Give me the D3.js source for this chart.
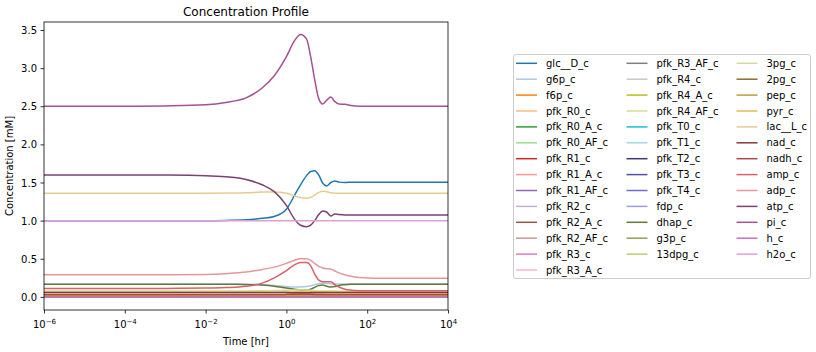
<!DOCTYPE html>
<html><head><meta charset="utf-8">
<script src="https://cdn.jsdelivr.net/npm/d3@7"></script>
<style>
html,body{margin:0;padding:0;background:#fff;}
svg{display:block;font-family:"DejaVu Sans",sans-serif;}
</style></head>
<body><svg id="chart" width="816" height="352"></svg>
<script>
// ---- data ----
const times = [1e-6, 1e-4, 1e-3, 1e-2, 0.0316, 0.1, 0.251, 0.501, 1, 1.585, 2.239, 3.162, 3.981, 5.012, 6.31, 7.943, 10, 12.59, 15.85, 19.95, 28.18, 39.81, 63.1, 158.5, 1000, 10000];

const names = ["glc__D_c","g6p_c","f6p_c","pfk_R0_c","pfk_R0_A_c","pfk_R0_AF_c","pfk_R1_c","pfk_R1_A_c","pfk_R1_AF_c","pfk_R2_c","pfk_R2_A_c","pfk_R2_AF_c","pfk_R3_c","pfk_R3_A_c","pfk_R3_AF_c","pfk_R4_c","pfk_R4_A_c","pfk_R4_AF_c","pfk_T0_c","pfk_T1_c","pfk_T2_c","pfk_T3_c","pfk_T4_c","fdp_c","dhap_c","g3p_c","13dpg_c","3pg_c","2pg_c","pep_c","pyr_c","lac__L_c","nad_c","nadh_c","amp_c","adp_c","atp_c","pi_c","h_c","h2o_c"];

const colors = ["#1f77b4","#aec7e8","#ff7f0e","#ffbb78","#2ca02c","#98df8a","#d62728","#ff9896","#9467bd","#c5b0d5","#8c564b","#c49c94","#e377c2","#f7b6d2","#7f7f7f","#c7c7c7","#bcbd22","#dbdb8d","#17becf","#9edae5","#393b79","#5254a3","#6b6ecf","#9c9ede","#637939","#8ca252","#b5cf6b","#cedb9c","#8c6d31","#bd9e39","#e7ba52","#e7cb94","#843c39","#ad494a","#d6616b","#e7969c","#7b4173","#a55194","#ce6dbd","#de9ed6"];

const yTicks = [0.0, 0.5, 1.0, 1.5, 2.0, 2.5, 3.0, 3.5];
const xTicks = [1e-6, 1e-4, 1e-2, 1e0, 1e2, 1e4];

const v_glc__D_c   = [1.0,1.0,1.0,1.0,1.003,1.01,1.03,1.055,1.15,1.33,1.47,1.59,1.645,1.655,1.6,1.49,1.455,1.5,1.52,1.505,1.5,1.505,1.505,1.505,1.505,1.505];
const v_g6p_c      = [0.165,0.165,0.165,0.165,0.165,0.164,0.16,0.15,0.136,0.13,0.13,0.135,0.145,0.16,0.175,0.18,0.177,0.172,0.17,0.17,0.17,0.17,0.17,0.17,0.17,0.17];
const v_f6p_c      = [0.02,0.02,0.02,0.02,0.02,0.021,0.023,0.026,0.03,0.033,0.035,0.036,0.036,0.035,0.034,0.033,0.032,0.032,0.032,0.031,0.031,0.031,0.031,0.031,0.031,0.031];
const v_pfk_R0_c   = [0.001,0.001,0.001,0.001,0.001,0.001,0.001,0.001,0.001,0.001,0.001,0.001,0.001,0.001,0.001,0.001,0.001,0.001,0.001,0.001,0.001,0.001,0.001,0.001,0.001,0.001];
const v_pfk_R0_A_c = [0.002,0.002,0.002,0.002,0.002,0.002,0.002,0.002,0.002,0.002,0.002,0.002,0.002,0.002,0.002,0.002,0.002,0.002,0.002,0.002,0.002,0.002,0.002,0.002,0.002,0.002];
const v_pfk_R0_AF_c= [0.001,0.001,0.001,0.001,0.001,0.001,0.001,0.001,0.001,0.001,0.001,0.001,0.001,0.001,0.001,0.001,0.001,0.001,0.001,0.001,0.001,0.001,0.001,0.001,0.001,0.001];
const v_pfk_R1_c   = [0.002,0.002,0.002,0.002,0.002,0.002,0.002,0.002,0.002,0.002,0.002,0.002,0.002,0.002,0.002,0.002,0.002,0.002,0.002,0.002,0.002,0.002,0.002,0.002,0.002,0.002];
const v_pfk_R1_A_c = [0.003,0.003,0.003,0.003,0.003,0.003,0.003,0.003,0.003,0.003,0.003,0.003,0.003,0.003,0.003,0.003,0.003,0.003,0.003,0.003,0.003,0.003,0.003,0.003,0.003,0.003];
const v_pfk_R1_AF_c= [0.001,0.001,0.001,0.001,0.001,0.001,0.001,0.001,0.001,0.001,0.001,0.001,0.001,0.001,0.001,0.001,0.001,0.001,0.001,0.001,0.001,0.001,0.001,0.001,0.001,0.001];
const v_pfk_R2_c   = [0.001,0.001,0.001,0.001,0.001,0.001,0.001,0.001,0.001,0.001,0.001,0.001,0.001,0.001,0.001,0.001,0.001,0.001,0.001,0.001,0.001,0.001,0.001,0.001,0.001,0.001];
const v_pfk_R2_A_c = [0.002,0.002,0.002,0.002,0.002,0.002,0.002,0.002,0.002,0.002,0.002,0.002,0.002,0.002,0.002,0.002,0.002,0.002,0.002,0.002,0.002,0.002,0.002,0.002,0.002,0.002];
const v_pfk_R2_AF_c= [0.001,0.001,0.001,0.001,0.001,0.001,0.001,0.001,0.001,0.001,0.001,0.001,0.001,0.001,0.001,0.001,0.001,0.001,0.001,0.001,0.001,0.001,0.001,0.001,0.001,0.001];
const v_pfk_R3_c   = [0.001,0.001,0.001,0.001,0.001,0.001,0.001,0.001,0.001,0.001,0.001,0.001,0.001,0.001,0.001,0.001,0.001,0.001,0.001,0.001,0.001,0.001,0.001,0.001,0.001,0.001];
const v_pfk_R3_A_c = [0.001,0.001,0.001,0.001,0.001,0.001,0.001,0.001,0.001,0.001,0.001,0.001,0.001,0.001,0.001,0.001,0.001,0.001,0.001,0.001,0.001,0.001,0.001,0.001,0.001,0.001];
const v_pfk_R3_AF_c= [0.0,0.0,0.0,0.0,0.0,0.0,0.0,0.0,0.0,0.0,0.0,0.0,0.0,0.0,0.0,0.0,0.0,0.0,0.0,0.0,0.0,0.0,0.0,0.0,0.0,0.0];
const v_pfk_R4_c   = [0.0,0.0,0.0,0.0,0.0,0.0,0.0,0.0,0.0,0.0,0.0,0.0,0.0,0.0,0.0,0.0,0.0,0.0,0.0,0.0,0.0,0.0,0.0,0.0,0.0,0.0];
const v_pfk_R4_A_c = [0.0,0.0,0.0,0.0,0.0,0.0,0.0,0.0,0.0,0.0,0.0,0.0,0.0,0.0,0.0,0.0,0.0,0.0,0.0,0.0,0.0,0.0,0.0,0.0,0.0,0.0];
const v_pfk_R4_AF_c= [0.0,0.0,0.0,0.0,0.0,0.0,0.0,0.0,0.0,0.0,0.0,0.0,0.0,0.0,0.0,0.0,0.0,0.0,0.0,0.0,0.0,0.0,0.0,0.0,0.0,0.0];
const v_pfk_T0_c   = [0.0,0.0,0.0,0.0,0.0,0.0,0.0,0.0,0.0,0.0,0.0,0.0,0.0,0.0,0.0,0.0,0.0,0.0,0.0,0.0,0.0,0.0,0.0,0.0,0.0,0.0];
const v_pfk_T1_c   = [0.0,0.0,0.0,0.0,0.0,0.0,0.0,0.0,0.0,0.0,0.0,0.0,0.0,0.0,0.0,0.0,0.0,0.0,0.0,0.0,0.0,0.0,0.0,0.0,0.0,0.0];
const v_pfk_T2_c   = [0.0,0.0,0.0,0.0,0.0,0.0,0.0,0.0,0.0,0.0,0.0,0.0,0.0,0.0,0.0,0.0,0.0,0.0,0.0,0.0,0.0,0.0,0.0,0.0,0.0,0.0];
const v_pfk_T3_c   = [0.0,0.0,0.0,0.0,0.0,0.0,0.0,0.0,0.0,0.0,0.0,0.0,0.0,0.0,0.0,0.0,0.0,0.0,0.0,0.0,0.0,0.0,0.0,0.0,0.0,0.0];
const v_pfk_T4_c   = [0.0,0.0,0.0,0.0,0.0,0.0,0.0,0.0,0.0,0.0,0.0,0.0,0.0,0.0,0.0,0.0,0.0,0.0,0.0,0.0,0.0,0.0,0.0,0.0,0.0,0.0];
const v_fdp_c      = [0.015,0.015,0.015,0.015,0.015,0.016,0.018,0.022,0.028,0.034,0.038,0.039,0.037,0.033,0.028,0.025,0.024,0.024,0.023,0.022,0.021,0.021,0.021,0.021,0.021,0.021];
const v_dhap_c     = [0.165,0.165,0.165,0.165,0.165,0.164,0.155,0.14,0.115,0.1,0.09,0.09,0.1,0.125,0.15,0.155,0.14,0.13,0.135,0.15,0.16,0.165,0.165,0.165,0.165,0.165];
const v_g3p_c      = [0.007,0.007,0.007,0.007,0.007,0.007,0.007,0.008,0.009,0.01,0.01,0.01,0.009,0.009,0.008,0.008,0.008,0.008,0.008,0.008,0.008,0.008,0.008,0.008,0.008,0.008];
const v_13dpg_c    = [0.0003,0.0003,0.0003,0.0003,0.0003,0.0003,0.0003,0.0003,0.0003,0.0003,0.0003,0.0003,0.0003,0.0003,0.0003,0.0003,0.0003,0.0003,0.0003,0.0003,0.0003,0.0003,0.0003,0.0003,0.0003,0.0003];
const v_3pg_c      = [0.077,0.077,0.077,0.077,0.077,0.078,0.08,0.083,0.087,0.09,0.092,0.09,0.086,0.081,0.078,0.077,0.077,0.077,0.076,0.075,0.074,0.074,0.074,0.074,0.074,0.074];
const v_2pg_c      = [0.011,0.011,0.011,0.011,0.011,0.011,0.011,0.012,0.012,0.013,0.013,0.013,0.012,0.012,0.011,0.011,0.011,0.011,0.011,0.011,0.011,0.011,0.011,0.011,0.011,0.011];
const v_pep_c      = [0.017,0.017,0.017,0.017,0.017,0.017,0.017,0.018,0.019,0.02,0.02,0.02,0.019,0.018,0.017,0.017,0.017,0.017,0.017,0.017,0.017,0.017,0.017,0.017,0.017,0.017];
const v_pyr_c      = [0.06,0.06,0.06,0.06,0.06,0.06,0.061,0.062,0.064,0.066,0.067,0.067,0.066,0.064,0.063,0.063,0.063,0.062,0.062,0.062,0.062,0.062,0.062,0.062,0.062,0.062];
const v_lac__L_c   = [1.36,1.36,1.36,1.36,1.362,1.366,1.374,1.377,1.358,1.325,1.302,1.294,1.305,1.335,1.368,1.384,1.38,1.366,1.36,1.36,1.36,1.36,1.36,1.36,1.36,1.36];
const v_nad_c      = [0.059,0.059,0.059,0.059,0.059,0.059,0.058,0.057,0.056,0.055,0.055,0.055,0.056,0.057,0.058,0.058,0.058,0.058,0.058,0.058,0.058,0.058,0.058,0.058,0.058,0.058];
const v_nadh_c     = [0.03,0.03,0.03,0.03,0.03,0.03,0.031,0.032,0.033,0.034,0.034,0.034,0.033,0.032,0.031,0.031,0.031,0.031,0.031,0.031,0.031,0.031,0.031,0.031,0.031,0.031];
const v_amp_c      = [0.11,0.11,0.111,0.115,0.122,0.14,0.18,0.25,0.345,0.42,0.45,0.45,0.41,0.3,0.22,0.2,0.2,0.2,0.16,0.13,0.1,0.088,0.082,0.08,0.08,0.08];
const v_adp_c      = [0.29,0.29,0.29,0.295,0.305,0.325,0.36,0.39,0.44,0.48,0.5,0.5,0.48,0.44,0.4,0.38,0.37,0.365,0.34,0.315,0.29,0.27,0.255,0.245,0.245,0.245];
const v_atp_c      = [1.6,1.6,1.598,1.59,1.575,1.54,1.47,1.38,1.2,1.02,0.94,0.92,0.94,1.0,1.08,1.125,1.11,1.06,1.088,1.08,1.075,1.075,1.075,1.075,1.075,1.075];
const v_pi_c       = [2.5,2.5,2.505,2.52,2.55,2.61,2.74,2.9,3.15,3.36,3.44,3.38,3.15,2.85,2.6,2.53,2.58,2.62,2.56,2.53,2.525,2.51,2.5,2.5,2.5,2.5];
const v_h_c        = [0.0001,0.0001,0.0001,0.0001,0.0001,0.0001,0.0001,0.0001,0.0001,0.0001,0.0001,0.0001,0.0001,0.0001,0.0001,0.0001,0.0001,0.0001,0.0001,0.0001,0.0001,0.0001,0.0001,0.0001,0.0001,0.0001];
const v_h2o_c      = [1.0,1.0,1.0,1.0,1.0,1.0,1.0,1.0,1.0,1.0,1.0,1.0,1.0,1.0,1.0,1.0,1.0,1.0,1.0,1.0,1.0,1.0,1.0,1.0,1.0,1.0];

const seriesValues = [v_glc__D_c,v_g6p_c,v_f6p_c,v_pfk_R0_c,v_pfk_R0_A_c,v_pfk_R0_AF_c,v_pfk_R1_c,v_pfk_R1_A_c,v_pfk_R1_AF_c,v_pfk_R2_c,v_pfk_R2_A_c,v_pfk_R2_AF_c,v_pfk_R3_c,v_pfk_R3_A_c,v_pfk_R3_AF_c,v_pfk_R4_c,v_pfk_R4_A_c,v_pfk_R4_AF_c,v_pfk_T0_c,v_pfk_T1_c,v_pfk_T2_c,v_pfk_T3_c,v_pfk_T4_c,v_fdp_c,v_dhap_c,v_g3p_c,v_13dpg_c,v_3pg_c,v_2pg_c,v_pep_c,v_pyr_c,v_lac__L_c,v_nad_c,v_nadh_c,v_amp_c,v_adp_c,v_atp_c,v_pi_c,v_h_c,v_h2o_c];

// ---- layout ----
const svg = d3.select("#chart");
const L = 44, R = 448, T = 22, B = 310;
const x = d3.scaleLog().domain([1e-6, 1e4]).range([L, R]);
const y = d3.scaleLinear().domain([-0.172, 3.605]).range([B, T]);

const clip = svg.append("defs").append("clipPath").attr("id","clip")
  .append("rect").attr("x",L).attr("y",T).attr("width",R-L).attr("height",B-T);

const line = d3.line().x(d => x(d[0])).y(d => y(d[1])).curve(d3.curveMonotoneX);
const g = svg.append("g").attr("clip-path","url(#clip)");
seriesValues.forEach((vals, i) => {
  g.append("path")
    .attr("d", line(times.map((t, k) => [t, vals[k]])))
    .attr("fill","none").attr("stroke", colors[i]).attr("stroke-width",1.5)
    .attr("stroke-linejoin","round").attr("stroke-linecap","square");
});

// axes
const sup = {"-6":"\u207B\u2076","-4":"\u207B\u2074","-2":"\u207B\u00B2","0":"\u2070","2":"\u00B2","4":"\u2074"};
const xAxis = d3.axisBottom(x).tickValues(xTicks).tickSize(3.5).tickPadding(3.5)
  .tickFormat(d => "");
const xg = svg.append("g").attr("transform",`translate(0,${B})`).call(xAxis);
xg.select(".domain").remove();
xg.selectAll(".tick").each(function(d){
  const e = Math.round(Math.log10(d));
  const t = d3.select(this).append("text").attr("y",18).attr("fill","#000")
    .attr("text-anchor","middle").style("font-size","10px");
  t.append("tspan").text("10");
  t.append("tspan").attr("dy",-4).style("font-size","7px").text(e < 0 ? "\u2212" + Math.abs(e) : String(e));
});
const yAxis = d3.axisLeft(y).tickValues(yTicks).tickSize(3.5).tickPadding(3.5).tickFormat(d3.format(".1f"));
const yg = svg.append("g").attr("transform",`translate(${L},0)`).call(yAxis);
yg.select(".domain").remove();
svg.selectAll(".tick line").attr("stroke","#000").attr("stroke-width",0.8);
svg.selectAll(".tick text").style("font-family","DejaVu Sans").style("font-size","10px");
yg.selectAll(".tick text").attr("dy","0.35em");

svg.append("rect").attr("x",L).attr("y",T).attr("width",R-L).attr("height",B-T)
  .attr("fill","none").attr("stroke","#000").attr("stroke-width",0.8);

svg.append("text").attr("x",(L+R)/2).attr("y",16).attr("text-anchor","middle")
  .style("font-size","12px").text("Concentration Profile");
svg.append("text").attr("x",(L+R)/2).attr("y",345).attr("text-anchor","middle")
  .style("font-size","10px").text("Time [hr]");
svg.append("text").attr("transform",`translate(13,${(T+B)/2}) rotate(-90)`).attr("text-anchor","middle")
  .style("font-size","10px").text("Concentration [mM]");

// legend
const lg = svg.append("g");
lg.append("rect").attr("x",513.5).attr("y",54.5).attr("width",297).attr("height",224)
  .attr("rx",2.5).attr("fill","#fff").attr("stroke","#cccccc").attr("stroke-width",1);
const colX = [516, 626.5, 736.5];
const rows = [14, 13, 13];
let idx = 0;
rows.forEach((n, c) => {
  for (let r = 0; r < n; r++, idx++) {
    const cy = 63.3 + r * 15.9;
    lg.append("line").attr("x1",colX[c]).attr("x2",colX[c]+21).attr("y1",cy).attr("y2",cy)
      .attr("stroke",colors[idx]).attr("stroke-width",1.5);
    lg.append("text").attr("x",colX[c]+30).attr("y",cy).attr("dy","0.35em")
      .style("font-size","10px").text(names[idx]);
  }
});
</script></body></html>
